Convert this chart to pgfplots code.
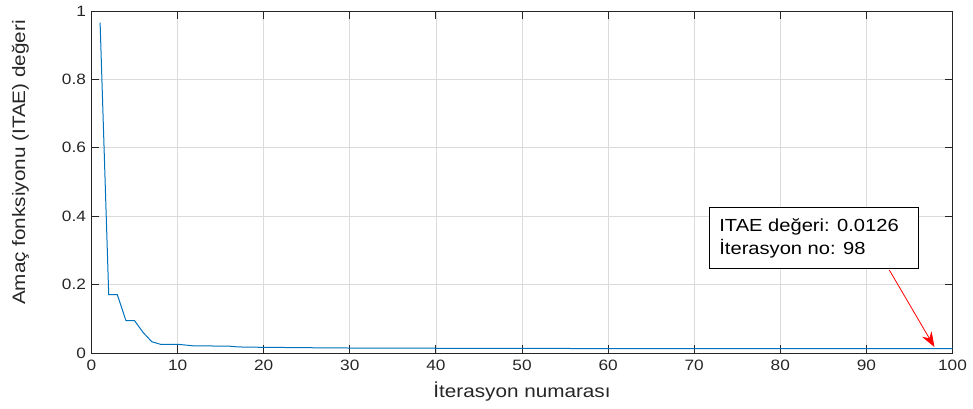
\documentclass[border=0pt]{standalone}
\usepackage{fontspec}
\setmainfont{Liberation Sans}[FakeStretch=1.15]
\usepackage{pgfplots}
\pgfplotsset{compat=1.18}
\usetikzlibrary{arrows.meta}
\definecolor{mblue}{rgb}{0,0.447,0.741}
\definecolor{axgray}{rgb}{0.15,0.15,0.15}
\begin{document}
\begin{tikzpicture}[x=1pt,y=1pt]
\useasboundingbox (-91.5,-55) rectangle (881.5,353);
\begin{axis}[
  scale only axis,
  width=861pt, height=342pt,
  xmin=0, xmax=100, ymin=0, ymax=1,
  xtick={0,10,...,100},
  ytick={0,0.2,0.4,0.6,0.8,1},
  yticklabels={0,0.2,0.4,0.6,0.8,1},
  /pgf/number format/assume math mode=true,
  tick align=inside,
  major tick length=8pt,
  axis line style={axgray, line width=0.9pt},
  tick style={axgray, line width=0.9pt},
  grid=major,
  major grid style={gray!28, line width=0.7pt},
  ticklabel style={font=\fontsize{15}{18}\selectfont, text=axgray},
  xticklabel style={yshift=-3pt},
  yticklabel style={xshift=-2pt},
  xlabel={İterasyon numarası},
  ylabel={Amaç fonksiyonu (ITAE) değeri},
  xlabel style={font=\fontsize{18}{21}\selectfont, text=axgray, at={(axis description cs:0.5,0)}, anchor=base, yshift=-44pt},
  ylabel style={font=\fontsize{18}{21}\selectfont, text=axgray, at={(axis description cs:0,0.557)}, anchor=center, yshift=71pt},
  clip=false,
]
\addplot[mblue, line width=1pt] coordinates {
(1,0.966) (2,0.1705) (3,0.1705) (4,0.0945) (5,0.0945) (6,0.060) (7,0.033)
(8,0.0255) (9,0.0255) (10,0.0255) (11,0.023) (12,0.0205) (13,0.0205) (14,0.0205)
(15,0.0203) (16,0.020) (17,0.0178) (18,0.0172) (19,0.0169) (20,0.0167)
(22,0.0162) (25,0.0155) (28,0.0149) (30,0.0146) (35,0.0142) (40,0.0139)
(45,0.0136) (50,0.0134) (55,0.0132) (60,0.0130) (70,0.0128) (80,0.0127)
(90,0.0126) (98,0.0126) (100,0.0126)
};
\draw[red, line width=0.8pt, -{Stealth[length=15pt,width=11pt]}] (axis cs:92.66,0.2427) -- (axis cs:97.9,0.0175);
\draw[black, line width=0.9pt, fill=white] (axis cs:71.75,0.2465) rectangle (axis cs:96.07,0.426);
\node[anchor=base west, inner sep=0pt, font=\fontsize{17.5}{21}\selectfont] at (axis cs:72.9,0.354) {ITAE değeri: 0.0126};
\node[anchor=base west, inner sep=0pt, font=\fontsize{17.5}{21}\selectfont] at (axis cs:72.9,0.289) {İterasyon no: 98};
\end{axis}
\end{tikzpicture}
\end{document}
